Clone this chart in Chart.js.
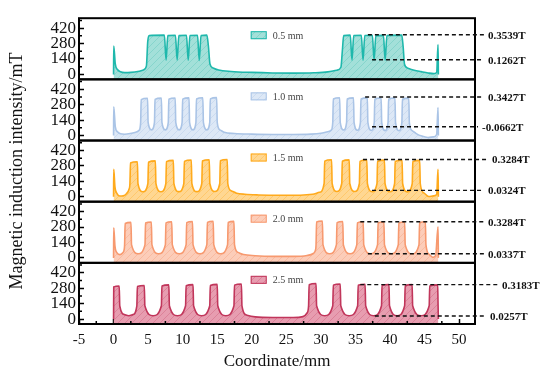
<!DOCTYPE html>
<html>
<head>
<meta charset="utf-8">
<script src="https://cdn.jsdelivr.net/npm/chart.js@4.4.0/dist/chart.umd.min.js"></script>
<style>
  html, body { margin: 0; padding: 0; background: #fff; }
  #wrap { width: 550px; height: 376px; }
</style>
</head>
<body>
<div id="wrap"><canvas id="chart" width="550" height="376"></canvas></div>
<script>
// ---- data (mT vs coordinate in mm) ----
const seriesLabels = ['0.5 mm', '1.0 mm', '1.5 mm', '2.0 mm', '2.5 mm'];
const xTicks = [-5, 0, 5, 10, 15, 20, 25, 30, 35, 40, 45, 50];
const xMinor = [-2.5, 2.5, 7.5, 12.5, 17.5, 22.5, 27.5, 32.5, 37.5, 42.5, 47.5];
const yTicks = [0, 140, 280, 420];
const yMinor = [70, 210, 350, 490];

const mm05 = [
  [0,0],[0.03,258],[0.25,95],[0.6,42],[1.0,24],[1.6,16],[2.5,18],[3.5,26],[4.3,40],[4.75,75],[4.95,300],[5.15,352],
  [7.35,356],[7.6,130],[7.85,352],
  [8.95,355],[9.2,128],[9.45,352],
  [10.55,355],[10.8,127],[11.05,353],
  [12.15,355],[12.4,126],[12.65,353],
  [13.5,356],[13.72,260],[13.95,95],[14.4,58],[15.2,40],[17,27],[20,18],[23,13],[26,12],[29,15],[31,23],[32.3,38],[32.9,65],[33.1,210],[33.3,352],
  [34.25,356],[34.5,127],[34.75,353],
  [35.85,355],[36.1,127],[36.35,353],
  [37.45,355],[37.7,126],[37.95,352],
  [39.05,354],[39.3,127],[39.55,352],
  [41.7,356],[41.9,255],[42.1,92],[42.6,56],[43.5,38],[44.5,25],[45.5,13],[46.3,7],[46.75,18],[46.95,270],[47,0]
];

const mm10 = [
  [0,0],[0.03,262],[0.25,82],[0.6,32],[1.0,16],[1.6,12],[2.4,18],[3.2,30],[3.7,48],
  [3.92,120],[4.0,326],[4.92,338],[5.0,120],[5.5,52],
  [5.92,120],[6.0,328],[6.92,340],[7.0,120],[7.5,52],
  [7.92,120],[8.0,330],[8.92,341],[9.0,120],[9.5,52],
  [9.92,120],[10.0,331],[10.92,342],[11.0,120],[11.5,52],
  [11.92,120],[12.0,332],[12.92,343],[13.0,120],[13.5,52],
  [13.92,120],[14.0,333],[14.92,344],[15.0,120],[15.4,52],[16.0,30],[17.5,19],[20,13],[23,10],[26,10],[28.5,13],[30,21],[31.0,35],[31.5,50],
  [31.72,120],[31.8,333],[32.72,343],[32.8,120],[33.3,50],
  [33.72,120],[33.8,332],[34.72,342],[34.8,120],[35.3,48],
  [35.72,120],[35.8,332],[36.72,342],[36.8,120],[37.3,46],
  [37.72,120],[37.8,331],[38.72,341],[38.8,120],[39.3,45],
  [39.72,120],[39.8,331],[40.72,341],[40.8,120],[41.3,44],
  [41.72,120],[41.8,330],[42.72,340],[42.8,120],[43.2,45],[43.8,18],[44.6,-5],[45.5,-17],[46.3,-12],[46.75,10],[46.95,255],[47,0]
];

const mm15 = [
  [0,0],[0.03,248],[0.2,90],[0.5,28],[0.9,6],[1.4,8],[1.9,30],[2.25,70],
  [2.37,120],[2.45,306],[3.45,318],[3.53,120],[4.25,45],
  [4.97,120],[5.05,313],[6.05,325],[6.13,120],[6.85,45],
  [7.57,120],[7.65,318],[8.65,330],[8.73,120],[9.45,46],
  [10.17,120],[10.25,321],[11.25,333],[11.33,120],[12.05,46],
  [12.77,120],[12.85,324],[13.85,336],[13.93,120],[14.65,47],
  [15.37,120],[15.45,326],[16.45,338],[16.53,120],[17.0,55],[17.8,32],[19,22],[21,16],[24,13],[27,14],[28.8,22],[29.8,40],
  [30.47,120],[30.55,323],[31.55,335],[31.63,120],[32.3,47],
  [33.02,120],[33.1,322],[34.1,334],[34.18,120],[34.9,47],
  [35.57,120],[35.65,321],[36.65,333],[36.73,120],[37.4,46],
  [38.12,120],[38.2,320],[39.2,332],[39.28,120],[40.0,45],
  [40.67,120],[40.75,319],[41.75,331],[41.83,120],[42.5,44],
  [43.22,120],[43.3,318],[44.3,330],[44.38,120],[44.9,35],[45.6,2],[46.3,8],[46.75,20],[46.95,248],[47,0]
];

const mm20 = [
  [0,0],[0.03,274],[0.2,110],[0.5,45],[0.9,30],[1.3,45],[1.55,80],
  [1.6,120],[1.68,312],[2.52,322],[2.6,120],[3.57,38],
  [4.55,120],[4.63,316],[5.47,326],[5.55,120],[6.52,38],
  [7.5,120],[7.58,318],[8.42,328],[8.5,120],[9.5,38],
  [10.5,120],[10.58,320],[11.42,330],[11.5,120],[12.5,38],
  [13.5,120],[13.58,322],[14.42,332],[14.5,120],[15.5,38],
  [16.5,120],[16.58,322],[17.42,331],[17.5,120],[18.0,50],[18.8,30],[20.5,20],[23,14],[26,14],[28,22],[28.9,40],[29.25,80],
  [29.3,120],[29.38,325],[30.22,335],[30.3,120],[31.27,38],
  [32.25,120],[32.33,320],[33.17,330],[33.25,120],[34.22,38],
  [35.2,120],[35.28,318],[36.12,328],[36.2,120],[37.2,37],
  [38.2,120],[38.28,316],[39.12,326],[39.2,120],[40.2,37],
  [41.2,120],[41.28,315],[42.12,325],[42.2,120],[43.2,36],
  [44.2,120],[44.28,318],[45.12,328],[45.2,120],[45.7,30],[46.2,5],[46.6,20],[46.95,283],[47,0]
];

const mm25 = [
  [0,0],[0.03,292],[0.82,300],[0.9,120],[1.6,40],[2.2,30],[2.8,40],
  [3.37,120],[3.45,295],[4.45,305],[4.53,120],[5.73,30],
  [6.92,120],[7.0,300],[8.0,310],[8.08,120],[9.25,30],
  [10.42,120],[10.5,302],[11.5,312],[11.58,120],[12.75,30],
  [13.92,120],[14.0,305],[15.0,315],[15.08,120],[16.25,30],
  [17.42,120],[17.5,308],[18.5,318],[18.58,120],[19.3,35],[20.5,20],[23,14],[26,14],[27.4,22],[28.0,55],
  [28.22,120],[28.3,312],[29.3,322],[29.38,120],[30.55,30],
  [31.72,120],[31.8,308],[32.8,318],[32.88,120],[34.1,30],
  [35.32,120],[35.4,306],[36.4,316],[36.48,120],[37.63,30],
  [38.77,120],[38.85,304],[39.85,314],[39.93,120],[41.03,30],
  [42.12,120],[42.2,302],[43.2,312],[43.28,120],[44.5,30],
  [45.67,120],[45.75,300],[46.9,310],[46.95,150],[47,0]
];

// dashed reference levels (mT), where each dash starts (mm) and the printed values
const guideLevels = [[360, 133], [350, 80], [338, 58], [328, 37], [312, 27]];
const guideStart = [[36.8, 37.4], [36.4, 37.4], [36.1, 37.4], [35.7, 36.8], [35.7, 37.8]];
const guideLabels = [
  ['0.3539T', '0.1262T'],
  ['0.3427T', '-0.0662T'],
  ['0.3284T', '0.0324T'],
  ['0.3284T', '0.0337T'],
  ['0.3183T', '0.0257T']
];

const allSeries = [mm05, mm10, mm15, mm20, mm25];

// ---- styles ----
const lineColors = ['#1fb8ac', '#aac4e6', '#ffaa1c', '#f7996f', '#c1365b'];
const fillBase = ['#a3e0d9', '#dde8f6', '#ffd792', '#fccdb9', '#e79db0'];
const fillHatch = ['#86d5cc', '#cbdbf0', '#ffc86c', '#f9bba1', '#dc8299'];
const guideTextGap = [[13, 13], [13, 7], [17, 13], [13, 13], [27, 15]];
const serif = '"Liberation Serif", "Times New Roman", serif';
const panelIds = ['y0', 'y1', 'y2', 'y3', 'y4'];

// diagonal hatch used for the filled areas
function makeHatch(base, stroke) {
  const n = 7;
  const c = document.createElement('canvas');
  c.width = n; c.height = n;
  const g = c.getContext('2d');
  g.fillStyle = base;
  g.fillRect(0, 0, n, n);
  g.strokeStyle = stroke;
  g.lineWidth = 1;
  g.beginPath();
  g.moveTo(0, n); g.lineTo(n, 0);
  g.moveTo(-1, 1); g.lineTo(1, -1);
  g.moveTo(n - 1, n + 1); g.lineTo(n + 1, n - 1);
  g.stroke();
  return g.createPattern(c, 'repeat');
}

const ctx = document.getElementById('chart').getContext('2d');
const patterns = fillBase.map((b, i) => makeHatch(b, fillHatch[i]));

// frames, minor ticks, dashed guides and the small per-panel legends
const panelDeco = {
  id: 'panelDeco',
  afterDraw(chart) {
    const c = chart.ctx;
    const area = chart.chartArea;
    const xs = chart.scales.x;
    c.save();
    c.strokeStyle = '#000';
    c.lineWidth = 1.5;
    c.beginPath();
    xMinor.forEach(v => {
      const px = xs.getPixelForValue(v);
      c.moveTo(px, area.bottom);
      c.lineTo(px, area.bottom - 3);
    });
    c.stroke();

    panelIds.forEach((id, i) => {
      const ys = chart.scales[id];

      c.strokeStyle = '#000';
      c.lineWidth = 1.5;
      c.beginPath();
      yMinor.forEach(v => {
        const py = ys.getPixelForValue(v);
        c.moveTo(area.left, py);
        c.lineTo(area.left + 3, py);
      });
      c.stroke();

      c.lineWidth = 2;
      c.strokeRect(area.left, ys.top, area.right - area.left, ys.bottom - ys.top);

      // dashed guides + values
      c.font = 'bold 11px ' + serif;
      c.textBaseline = 'middle';
      c.textAlign = 'left';
      for (let k = 0; k < 2; k++) {
        const gy = ys.getPixelForValue(guideLevels[i][k]);
        const gx0 = xs.getPixelForValue(guideStart[i][k]);
        const tx = area.right + guideTextGap[i][k];
        c.setLineDash([4, 3]);
        c.lineWidth = 1.4;
        c.strokeStyle = '#111';
        c.beginPath();
        c.moveTo(gx0, gy);
        c.lineTo(tx - 4, gy);
        c.stroke();
        c.setLineDash([]);
        c.fillStyle = '#111';
        c.fillText(guideLabels[i][k], tx, gy + 1);
      }

      // legend
      c.font = '10px ' + serif;
      const tw = c.measureText(seriesLabels[i]).width;
      const lx = (area.left + area.right) / 2 - (22 + tw) / 2;
      const ly = ys.top + 17;
      c.fillStyle = patterns[i];
      c.fillRect(lx, ly - 4, 16, 8);
      c.strokeStyle = lineColors[i];
      c.lineWidth = 1;
      c.strokeRect(lx + 0.5, ly - 3.5, 15, 7);
      c.fillStyle = '#444';
      c.fillText(seriesLabels[i], lx + 22, ly + 1);
    });
    c.restore();
  }
};

// one stacked y axis per panel
const scales = {
  x: {
    type: 'linear',
    min: -5,
    max: 52.3,
    z: 1,
    afterBuildTicks: s => { s.ticks = xTicks.map(v => ({ value: v })); },
    afterFit: s => { s.height = 52; },
    border: { display: false },
    grid: { drawOnChartArea: false, tickLength: -5, tickWidth: 1.5, tickColor: '#000' },
    ticks: { padding: 12, color: '#111', font: { family: serif, size: 15 }, autoSkip: false, maxRotation: 0 },
    title: { display: true, text: 'Coordinate/mm', color: '#111', font: { family: serif, size: 17 }, padding: { top: 0, bottom: 4 } }
  }
};
panelIds.forEach((id, i) => {
  scales[id] = {
    type: 'linear',
    position: 'left',
    stack: 'panels',
    stackWeight: 1,
    weight: 5 - i,
    min: -45,
    max: 510,
    z: 1,
    afterBuildTicks: s => { s.ticks = yTicks.map(v => ({ value: v })); },
    afterFit: s => { s.width = 79; },
    border: { display: false },
    grid: { drawOnChartArea: false, tickLength: -5, tickWidth: 1.5, tickColor: '#000' },
    ticks: { padding: 8, color: '#111', font: { family: serif, size: 17 }, autoSkip: false },
    title: {
      display: i === 2,
      text: 'Magnetic induction intensity/mT',
      color: '#111',
      font: { family: serif, size: 18 },
      padding: { top: 6, bottom: 0 }
    }
  };
});

new Chart(ctx, {
  type: 'line',
  data: {
    datasets: allSeries.map((pts, i) => ({
      label: seriesLabels[i],
      data: pts.map(p => ({ x: p[0], y: p[1] })),
      yAxisID: panelIds[i],
      borderColor: lineColors[i],
      backgroundColor: patterns[i],
      borderWidth: 1.6,
      pointRadius: 0,
      cubicInterpolationMode: 'monotone',
      fill: 'start'
    }))
  },
  options: {
    responsive: false,
    animation: false,
    layout: { padding: { top: 13, right: 75, left: 0, bottom: 0 } },
    plugins: { legend: { display: false }, tooltip: { enabled: false } },
    scales: scales
  },
  plugins: [panelDeco]
});
</script>
</body>
</html>
